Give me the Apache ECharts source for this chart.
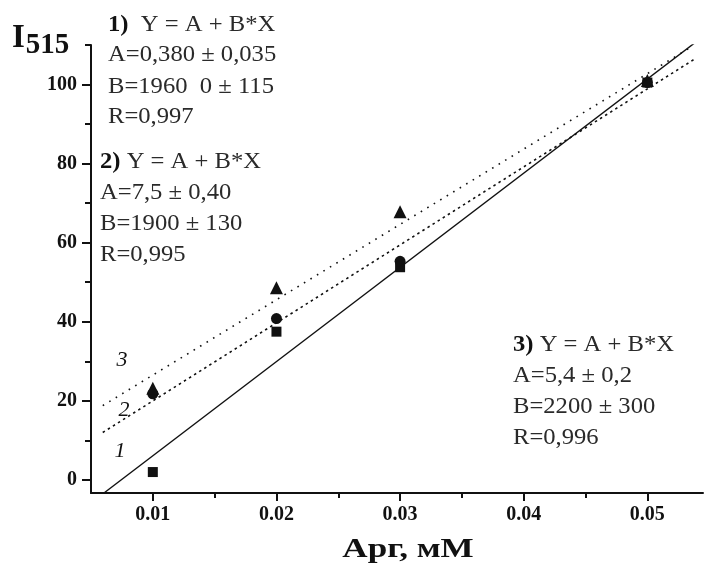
<!DOCTYPE html>
<html>
<head>
<meta charset="utf-8">
<script src="https://cdn.jsdelivr.net/npm/echarts@6/dist/echarts.min.js"></script>
<style>
  html, body { margin: 0; padding: 0; background: #fff; }
  #chart { width: 704px; height: 567px; }
</style>
</head>
<body>
<div id="chart"></div>
<script>
const concentrations = [0.01, 0.02, 0.03, 0.05]
const squareValues = [2, 37.5, 53.8, 100.5]
const circleValues = [21.8, 40.8, 55.3, 100.5]
const triangleValues = [23.2, 48.6, 67.8, 101]

// fitted lines, endpoints
const fit1 = [[0.00605, -3.3], [0.0539, 110.7]]
const fit2 = [[0.00595, 12.0], [0.0538, 106.4]]
const fit3 = [[0.00595, 18.8], [0.0536, 109.6]]

const xMajorTicks = [0.01, 0.02, 0.03, 0.04, 0.05]
const xMinorTicks = [0.015, 0.025, 0.035, 0.045]
const yMajorTicks = [0, 20, 40, 60, 80, 100]
const yMinorTicks = [10, 30, 50, 70, 90, 110]

const serif = "Liberation Serif"
const ink = "#111"
const noteColor = "#2a2a2a"

const chart = echarts.init(document.getElementById("chart"))

function note(x, y, lines) {
  return lines.map((t, i) => ({
    type: "text",
    x: x,
    y: y[i],
    scaleX: 1.07,
    style: {
      text: t,
      font: "23px " + serif,
      fill: noteColor,
      verticalAlign: "middle",
      rich: {
        b: {font: "bold 23px " + serif, fill: ink},
      },
    },
  }))
}

function curveLabel(x, y, t) {
  return {
    type: "text",
    x: x,
    y: y,
    style: {
      text: t,
      font: "italic 22px " + serif,
      fill: ink,
      align: "center",
      verticalAlign: "middle",
    },
  }
}

const xAxisBase = {
  type: "value",
  min: 0.005,
  max: 0.0545,
  position: "bottom",
  splitLine: {show: false},
}
const yAxisBase = {
  type: "value",
  min: -3.3,
  max: 110,
  position: "left",
  splitLine: {show: false},
}

chart.setOption({
  animation: false,
  grid: {left: 91, right: 1, top: 45, bottom: 74},
  xAxis: [
    {
      ...xAxisBase,
      axisLine: {onZero: false, lineStyle: {color: ink, width: 2}},
      axisTick: {customValues: xMajorTicks, length: 8, lineStyle: {color: ink, width: 2}},
      axisLabel: {
        customValues: xMajorTicks,
        color: ink,
        fontFamily: serif,
        fontWeight: "bold",
        fontSize: 20,
        margin: 12,
        formatter: v => v.toFixed(2),
      },
    },
    {
      ...xAxisBase,
      axisLine: {show: false, onZero: false},
      axisTick: {customValues: xMinorTicks, length: 5, lineStyle: {color: ink, width: 2}},
      axisLabel: {show: false},
    },
  ],
  yAxis: [
    {
      ...yAxisBase,
      axisLine: {onZero: false, lineStyle: {color: ink, width: 2}},
      axisTick: {customValues: yMajorTicks, length: 9, lineStyle: {color: ink, width: 2}},
      axisLabel: {
        customValues: yMajorTicks,
        color: ink,
        fontFamily: serif,
        fontWeight: "bold",
        fontSize: 20,
        margin: 14,
      },
    },
    {
      ...yAxisBase,
      axisLine: {show: false, onZero: false},
      axisTick: {customValues: yMinorTicks, length: 6, lineStyle: {color: ink, width: 2}},
      axisLabel: {show: false},
    },
  ],
  series: [
    {
      type: "line",
      data: fit1,
      symbol: "none",
      lineStyle: {color: ink, width: 1.4},
    },
    {
      type: "line",
      data: fit2,
      symbol: "none",
      lineStyle: {color: ink, width: 1.6, type: [2.5, 3.5]},
    },
    {
      type: "line",
      data: fit3,
      symbol: "none",
      lineStyle: {color: ink, width: 1.6, type: [1.6, 6]},
    },
    {
      type: "scatter",
      data: concentrations.map((x, i) => [x, squareValues[i]]),
      symbol: "rect",
      symbolSize: 10,
      itemStyle: {color: ink, opacity: 1},
    },
    {
      type: "scatter",
      data: concentrations.map((x, i) => [x, circleValues[i]]),
      symbol: "circle",
      symbolSize: 11,
      itemStyle: {color: ink, opacity: 1},
    },
    {
      type: "scatter",
      data: concentrations.map((x, i) => [x, triangleValues[i]]),
      symbol: "triangle",
      symbolSize: 13,
      itemStyle: {color: ink, opacity: 1},
    },
  ],
  graphic: [
    {
      type: "text",
      left: 12,
      top: 22,
      style: {
        text: "{i|I}{s|515}",
        rich: {
          i: {font: "bold 33px " + serif, fill: ink},
          s: {font: "bold 29px " + serif, fill: ink, padding: [14, 0, 0, 1]},
        },
      },
    },
    {
      type: "text",
      x: 408,
      y: 550,
      scaleX: 1.3,
      style: {
        text: "Арг, мМ",
        font: "bold 27px " + serif,
        fill: ink,
        align: "center",
        verticalAlign: "middle",
      },
    },
    ...note(108, [25, 55, 87, 117], [
      "{b|1)}  Y = A + B*X",
      "A=0,380 ± 0,035",
      "B=1960  0 ± 115",
      "R=0,997",
    ]),
    ...note(100, [162, 193, 224, 255], [
      "{b|2)} Y = A + B*X",
      "A=7,5 ± 0,40",
      "B=1900 ± 130",
      "R=0,995",
    ]),
    ...note(513, [345, 376, 407, 438], [
      "{b|3)} Y = A + B*X",
      "A=5,4 ± 0,2",
      "B=2200 ± 300",
      "R=0,996",
    ]),
    curveLabel(122, 360, "3"),
    curveLabel(124, 410, "2"),
    curveLabel(120, 451, "1"),
  ],
})
</script>
</body>
</html>
